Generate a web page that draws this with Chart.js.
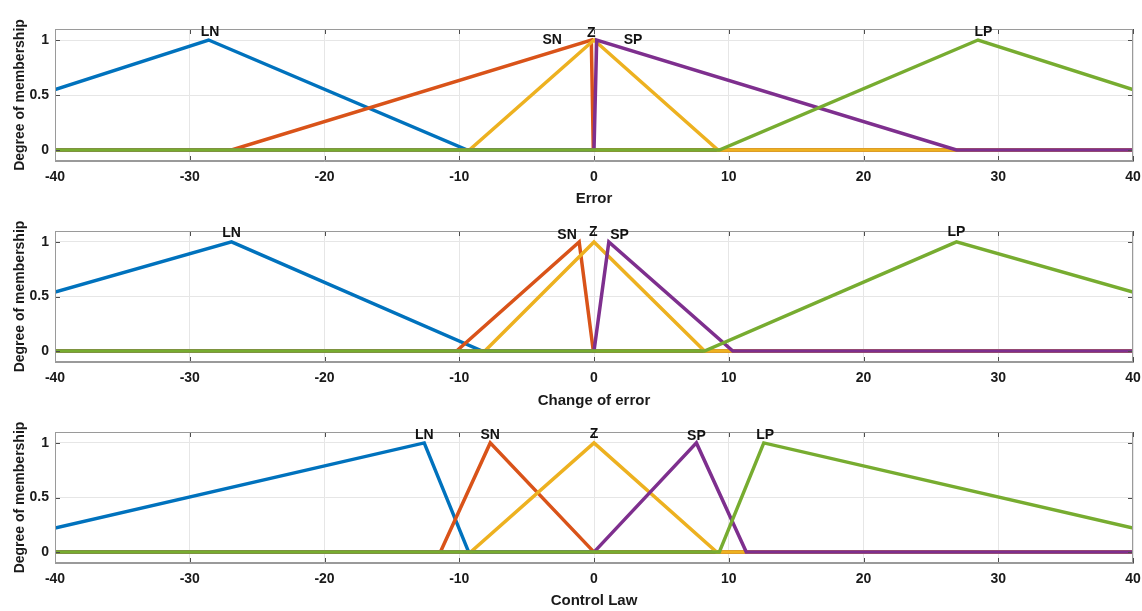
<!DOCTYPE html>
<html>
<head>
<meta charset="utf-8">
<script src="https://cdn.jsdelivr.net/npm/chart.js@4/dist/chart.umd.min.js"></script>
<style>
  html, body { margin: 0; padding: 0; background: #fff; }
  canvas { position: absolute; left: 0; }
</style>
</head>
<body>
<canvas id="errorChart" width="1142" height="208" style="top:0px"></canvas>
<canvas id="changeChart" width="1142" height="202" style="top:208px"></canvas>
<canvas id="lawChart" width="1142" height="200" style="top:410px"></canvas>
<script>
// membership function names and colours (MATLAB default order)
const setNames = ['LN', 'SN', 'Z', 'SP', 'LP'];
const setColors = ['#0072BD', '#D95319', '#EDB120', '#7E2F8E', '#77AC30'];
const xTicks = [-40, -30, -20, -10, 0, 10, 20, 30, 40];
const yTicks = [0, 0.5, 1];

// Error
const errLN = [[-40, 0.55], [-28.6, 1], [-9.4, 0], [40, 0]];
const errSN = [[-40, 0], [-26.9, 0], [-0.2, 1], [-0.05, 0], [40, 0]];
const errZ  = [[-40, 0], [-9.25, 0], [0, 1], [9.2, 0], [40, 0]];
const errSP = [[-40, 0], [0, 0], [0.2, 1], [26.9, 0], [40, 0]];
const errLP = [[-40, 0], [9.3, 0], [28.5, 1], [40, 0.55]];
const errLabelX = [-28.5, -3.1, -0.2, 2.9, 28.9];
const errLabelY = [1.07, 1.0, 1.06, 1.0, 1.075];

// Change of error
const dErrLN = [[-40, 0.54], [-26.9, 1], [-8.3, 0], [40, 0]];
const dErrSN = [[-40, 0], [-10.2, 0], [-1.1, 1], [-0.05, 0], [40, 0]];
const dErrZ  = [[-40, 0], [-8.1, 0], [0, 1], [8.2, 0], [40, 0]];
const dErrSP = [[-40, 0], [0, 0], [1.1, 1], [10.3, 0], [40, 0]];
const dErrLP = [[-40, 0], [8.2, 0], [26.9, 1], [40, 0.54]];
const dErrLabelX = [-26.9, -2.0, -0.05, 1.9, 26.9];
const dErrLabelY = [1.08, 1.064, 1.085, 1.058, 1.085];

// Control law
const lawLN = [[-40, 0.22], [-12.6, 1], [-9.3, 0], [40, 0]];
const lawSN = [[-40, 0], [-11.4, 0], [-7.7, 1], [0, 0], [40, 0]];
const lawZ  = [[-40, 0], [-9.15, 0], [0, 1], [9.1, 0], [40, 0]];
const lawSP = [[-40, 0], [0, 0], [7.6, 1], [11.3, 0], [40, 0]];
const lawLP = [[-40, 0], [9.3, 0], [12.6, 1], [40, 0.22]];
const lawLabelX = [-12.6, -7.7, 0, 7.6, 12.7];
const lawLabelY = [1.067, 1.067, 1.08, 1.058, 1.073];

const FONT = '"Liberation Sans", Arial, sans-serif';
const textColor = '#1a1a1a';

// box, inward tick marks and the set names
const frameAndLabels = {
  id: 'frameAndLabels',
  afterDatasetsDraw(chart, args, opts) {
    const { ctx, chartArea: a, scales: { x, y } } = chart;
    ctx.save();
    ctx.strokeStyle = '#4d4d4d';
    ctx.lineWidth = 1;
    ctx.beginPath();
    xTicks.forEach(v => {
      const px = Math.round(x.getPixelForValue(v)) + 0.5;
      ctx.moveTo(px, a.top); ctx.lineTo(px, a.top + 5);
      ctx.moveTo(px, a.bottom); ctx.lineTo(px, a.bottom - 5);
    });
    yTicks.forEach(v => {
      const py = Math.round(y.getPixelForValue(v)) + 0.5;
      ctx.moveTo(a.left, py); ctx.lineTo(a.left + 5, py);
      ctx.moveTo(a.right, py); ctx.lineTo(a.right - 5, py);
    });
    ctx.stroke();
    ctx.strokeStyle = '#9a9a9a';
    ctx.strokeRect(a.left + 0.5, a.top + 0.5, a.width - 1, a.height - 1);

    ctx.font = 'bold 14px ' + FONT;
    ctx.fillStyle = '#111';
    ctx.textAlign = 'center';
    ctx.textBaseline = 'middle';
    opts.xs.forEach((v, i) => {
      ctx.fillText(setNames[i], x.getPixelForValue(v), y.getPixelForValue(opts.ys[i]));
    });
    ctx.restore();
  }
};

function makeChart(id, series, xTitle, labelXs, labelYs, topPad, xAxisHeight) {
  const ctx = document.getElementById(id).getContext('2d');
  return new Chart(ctx, {
    type: 'line',
    data: {
      datasets: series.map((pts, i) => ({
        label: setNames[i],
        data: pts.map(p => ({ x: p[0], y: p[1] })),
        borderColor: setColors[i],
        borderWidth: 3.5,
        pointRadius: 0,
        tension: 0,
        fill: false,
        order: series.length - i
      }))
    },
    options: {
      responsive: false,
      animation: false,
      layout: { padding: { top: topPad, left: 0, right: 9, bottom: 0 } },
      plugins: {
        legend: { display: false },
        tooltip: { enabled: false },
        frameAndLabels: { xs: labelXs, ys: labelYs }
      },
      scales: {
        x: {
          type: 'linear',
          min: -40,
          max: 40,
          grid: { color: '#e6e6e6', drawTicks: false },
          border: { color: '#9a9a9a' },
          ticks: {
            stepSize: 10,
            padding: 8,
            maxRotation: 0,
            autoSkip: false,
            color: textColor,
            font: { family: FONT, size: 14, weight: 'bold' }
          },
          title: {
            display: true,
            text: xTitle,
            color: textColor,
            padding: { top: 0, bottom: 0 },
            font: { family: FONT, size: 15, weight: 'bold' }
          },
          afterFit(scale) {
            scale.height = xAxisHeight;
            scale.paddingLeft = 0;
            scale.paddingRight = 0;
          }
        },
        y: {
          min: -0.1,
          max: 1.1,
          afterBuildTicks(scale) { scale.ticks = yTicks.map(v => ({ value: v })); },
          grid: { color: '#e6e6e6', drawTicks: false },
          border: { color: '#9a9a9a' },
          ticks: {
            padding: 6,
            color: textColor,
            callback: v => String(v),
            font: { family: FONT, size: 14, weight: 'bold' }
          },
          title: {
            display: true,
            text: 'Degree of membership',
            color: textColor,
            padding: { top: 12, bottom: 0 },
            font: { family: FONT, size: 14, weight: 'bold' }
          },
          afterFit(scale) { scale.width = 55; }
        }
      }
    },
    plugins: [frameAndLabels]
  });
}

makeChart('errorChart', [errLN, errSN, errZ, errSP, errLP], 'Error', errLabelX, errLabelY, 29, 47);
makeChart('changeChart', [dErrLN, dErrSN, dErrZ, dErrSP, dErrLP], 'Change of error', dErrLabelX, dErrLabelY, 23, 48);
makeChart('lawChart', [lawLN, lawSN, lawZ, lawSP, lawLP], 'Control Law', lawLabelX, lawLabelY, 22, 47);
</script>
</body>
</html>
